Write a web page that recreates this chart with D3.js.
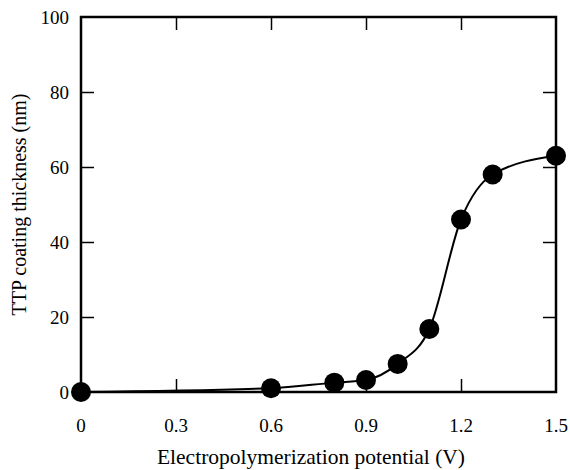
<!DOCTYPE html>
<html><head><meta charset="utf-8">
<script src="https://cdn.jsdelivr.net/npm/d3@7"></script>
<style>body{margin:0;background:#fff}svg{display:block}</style>
</head><body>
<script>
const potentials = [0, 0.6, 0.8, 0.9, 1.0, 1.1, 1.2, 1.3, 1.5];
const thickness = [0, 1, 2.5, 3.2, 7.5, 16.8, 46, 58, 63];
const xTicks = [0, 0.3, 0.6, 0.9, 1.2, 1.5];
const yTicks = [0, 20, 40, 60, 80, 100];
const xTitle = "Electropolymerization potential (V)";
const yTitle = "TTP coating thickness (nm)";

const W = 570, H = 470;
const m = {left: 81, right: 14, top: 17, bottom: 78};
const svg = d3.select("body").append("svg").attr("width", W).attr("height", H)
  .style("font-family", "'Liberation Serif', 'Times New Roman', serif");
const x = d3.scaleLinear().domain([0, 1.5]).range([m.left, W - m.right]);
const y = d3.scaleLinear().domain([0, 100]).range([H - m.bottom, m.top]);

const tl = 13;
const inner = xTicks.filter(v => v > 0 && v < 1.5);
const innerY = yTicks.filter(v => v > 0 && v < 100);
// inward ticks on all sides
svg.append("g").attr("transform", `translate(0,${y(0)})`)
  .call(d3.axisBottom(x).tickValues(inner).tickSizeInner(-tl).tickSizeOuter(0).tickFormat(""))
  .call(g => { g.select(".domain").remove(); g.selectAll("line").attr("stroke-width", 1.5); });
svg.append("g").attr("transform", `translate(0,${y(100)})`)
  .call(d3.axisTop(x).tickValues(inner).tickSizeInner(-tl).tickSizeOuter(0).tickFormat(""))
  .call(g => { g.select(".domain").remove(); g.selectAll("line").attr("stroke-width", 1.5); });
svg.append("g").attr("transform", `translate(${x(0)},0)`)
  .call(d3.axisLeft(y).tickValues(innerY).tickSizeInner(-tl).tickSizeOuter(0).tickFormat(""))
  .call(g => { g.select(".domain").remove(); g.selectAll("line").attr("stroke-width", 1.5); });
svg.append("g").attr("transform", `translate(${x(1.5)},0)`)
  .call(d3.axisRight(y).tickValues(innerY).tickSizeInner(-tl).tickSizeOuter(0).tickFormat(""))
  .call(g => { g.select(".domain").remove(); g.selectAll("line").attr("stroke-width", 1.5); });

// tick labels
svg.append("g").selectAll("text").data(xTicks).join("text")
  .attr("x", d => x(d)).attr("y", y(0) + 40).attr("text-anchor", "middle")
  .attr("font-size", 19).text(d => d === 0 ? "0" : d3.format(".1f")(d));
svg.append("g").selectAll("text").data(yTicks).join("text")
  .attr("x", x(0) - 12).attr("y", d => y(d)).attr("dy", "0.35em").attr("text-anchor", "end")
  .attr("font-size", 19).text(d => d);

// frame
svg.append("rect").attr("x", x(0)).attr("y", y(100))
  .attr("width", x(1.5) - x(0)).attr("height", y(0) - y(100))
  .attr("fill", "none").attr("stroke", "#000").attr("stroke-width", 2.5);

// curve
const pts = potentials.map((p, i) => [p, thickness[i]]);
const line = d3.line().x(d => x(d[0])).y(d => y(d[1])).curve(d3.curveMonotoneX);
svg.append("path").attr("d", line(pts)).attr("fill", "none").attr("stroke", "#000").attr("stroke-width", 2);

svg.append("g").selectAll("circle").data(pts).join("circle")
  .attr("cx", d => x(d[0])).attr("cy", d => y(d[1])).attr("r", 10).attr("fill", "#000");

// titles
svg.append("text").attr("x", 311).attr("y", 464).attr("text-anchor", "middle")
  .attr("font-size", 21.5).text(xTitle);
svg.append("text").attr("transform", `translate(26,${(y(0) + y(100)) / 2}) rotate(-90)`)
  .attr("text-anchor", "middle").attr("font-size", 20).text(yTitle);
</script>
</body></html>
